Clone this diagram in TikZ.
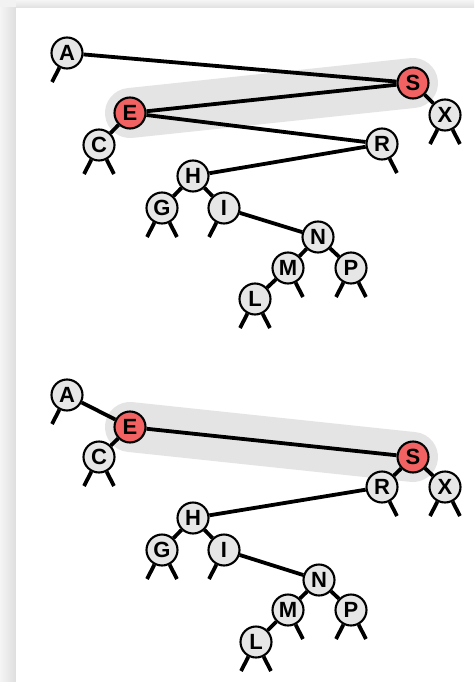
\documentclass[tikz,border=0pt]{standalone}
\usepackage{fontspec}
\setmainfont{Liberation Sans}
\usetikzlibrary{backgrounds}

\definecolor{keyred}{RGB}{242,98,98}
\definecolor{keygray}{RGB}{230,230,230}
\definecolor{bandgray}{RGB}{228,228,228}

\begin{document}
\begin{tikzpicture}[
  x=1pt,y=-1pt,
  key/.style={circle,draw,line width=2.1pt,fill=keygray,minimum size=31pt,
              inner sep=0pt,font=\fontsize{22}{22}\selectfont\bfseries},
  redkey/.style={key,fill=keyred},
  link/.style={line width=3.8pt},
  nulllink/.style={line width=3.8pt},
  band/.style={line width=50pt,line cap=round,draw=bandgray},
]
\useasboundingbox (0,0) rectangle (474,682);

% page frame with a soft shadow round the white panel
\begin{scope}[on background layer]
  \fill[black!5] (0,0) rectangle (474,682);
  \shade[left color=black!4,right color=black!13] (0,8) rectangle (16,682);
  \shade[top color=black!4,bottom color=black!12] (16,0) rectangle (474,8);
  \fill[white] (16,8) rectangle (474,682);
\end{scope}

% ---- first tree: E and S before the rotation ----
\node[key]    (A1) at (67,53)   {A};
\node[redkey] (S1) at (413,83)  {S};
\node[redkey] (E1) at (130,113) {E};
\node[key]    (X1) at (445,115) {X};
\node[key]    (C1) at (99,145)  {C};
\node[key]    (R1) at (382,144) {R};
\node[key]    (H1) at (193,176) {H};
\node[key]    (G1) at (162,208) {G};
\node[key]    (I1) at (224,208) {I};
\node[key]    (N1) at (318,237) {N};
\node[key]    (M1) at (288,268) {M};
\node[key]    (P1) at (351,268) {P};
\node[key]    (L1) at (255,299) {L};

\begin{scope}[on background layer]
  \draw[band] (E1.center) -- (S1.center);
\end{scope}

\draw[link] (A1) -- (S1);
\draw[link] (S1) -- (E1);
\draw[link] (S1) -- (X1);
\draw[link] (E1) -- (C1);
\draw[link] (E1) -- (R1);
\draw[link] (R1) -- (H1);
\draw[link] (H1) -- (G1);
\draw[link] (H1) -- (I1);
\draw[link] (I1) -- (N1);
\draw[link] (N1) -- (M1);
\draw[link] (N1) -- (P1);
\draw[link] (M1) -- (L1);

% null links
\foreach \k in {A1,X1,C1,G1,I1,P1,L1}
  \draw[nulllink] (\k) -- ++(-15,29) coordinate (\k-left);
\foreach \k in {X1,C1,R1,G1,M1,P1,L1}
  \draw[nulllink] (\k) -- ++(15,29) coordinate (\k-right);

% ---- second tree: after the rotation, E on top of S ----
\node[key]    (A2) at (67,395)  {A};
\node[redkey] (E2) at (130,427) {E};
\node[key]    (C2) at (99,457)  {C};
\node[redkey] (S2) at (413,457) {S};
\node[key]    (R2) at (382,487) {R};
\node[key]    (X2) at (445,487) {X};
\node[key]    (H2) at (193,518) {H};
\node[key]    (G2) at (162,550) {G};
\node[key]    (I2) at (224,550) {I};
\node[key]    (N2) at (319,580) {N};
\node[key]    (M2) at (288,610) {M};
\node[key]    (P2) at (351,610) {P};
\node[key]    (L2) at (256,642) {L};

\begin{scope}[on background layer]
  \draw[band] (E2.center) -- (S2.center);
\end{scope}

\draw[link] (A2) -- (E2);
\draw[link] (E2) -- (C2);
\draw[link] (E2) -- (S2);
\draw[link] (S2) -- (R2);
\draw[link] (S2) -- (X2);
\draw[link] (R2) -- (H2);
\draw[link] (H2) -- (G2);
\draw[link] (H2) -- (I2);
\draw[link] (I2) -- (N2);
\draw[link] (N2) -- (M2);
\draw[link] (N2) -- (P2);
\draw[link] (M2) -- (L2);

% null links
\foreach \k in {A2,C2,X2,G2,I2,P2,L2}
  \draw[nulllink] (\k) -- ++(-15,29) coordinate (\k-left);
\foreach \k in {C2,R2,X2,G2,M2,P2,L2}
  \draw[nulllink] (\k) -- ++(15,29) coordinate (\k-right);

\end{tikzpicture}
\end{document}
